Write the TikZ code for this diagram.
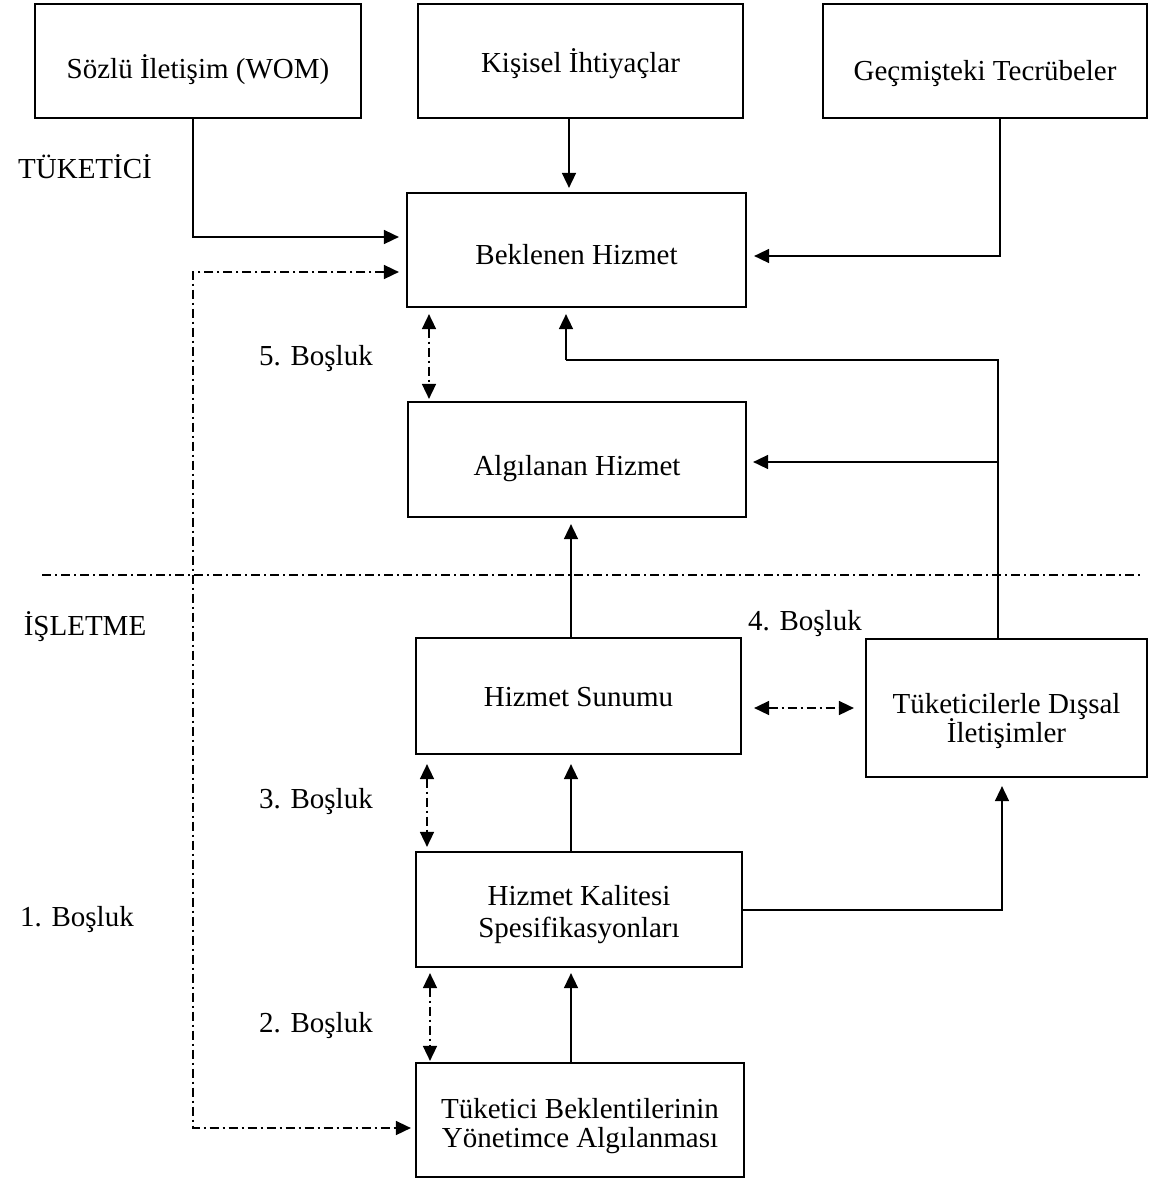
\documentclass[tikz,border=0pt]{standalone}
\usepackage{fontspec}
\setmainfont{Liberation Serif}
\usetikzlibrary{arrows.meta}
\begin{document}
\lineskiplimit=-60pt\relax
\begin{tikzpicture}[x=1pt,y=-1pt,
  txt/.style={font=\fontsize{29}{27}\selectfont, inner sep=0pt, anchor=base},
  mtxt/.style={font={\fontsize{29}{#1}\selectfont}, inner sep=0pt, align=center},
  box/.style={draw, line width=2.2pt, minimum width=#1, inner sep=0pt},
  arr/.style={line width=1.6pt, -{Triangle[length=15pt,width=14pt]}},
  dd/.style={line width=1.6pt, dash pattern=on 9pt off 4pt on 2pt off 4pt},
  ddarr/.style={dd, {Triangle[length=15pt,width=14pt]}-{Triangle[length=15pt,width=14pt]}}
]
\useasboundingbox (0,0) rectangle (1155,1181);
% boxes
\node[box=326pt, minimum height=114pt] (wom) at (198,61) {};
\node[box=325pt, minimum height=114pt] (kis) at (580.5,61) {};
\node[box=324pt, minimum height=114pt] (gec) at (985,61) {};
\node[box=339pt, minimum height=114pt] (bek) at (576.5,250) {};
\node[box=338pt, minimum height=115pt] (alg) at (577,459.5) {};
\node[box=325pt, minimum height=116pt] (sun) at (578.5,696) {};
\node[box=326pt, minimum height=115pt] (kal) at (579,909.5) {};
\node[box=328pt, minimum height=114pt] (tbm) at (580,1120) {};
\node[box=281pt, minimum height=138pt] (dis) at (1006.5,708) {};
% box texts
\node[txt] (wom-t) at (198,78) {Sözlü İletişim (WOM)};
\node[txt] (kis-t) at (580.5,72) {Kişisel İhtiyaçlar};
\node[txt] (gec-t) at (985,80) {Geçmişteki Tecrübeler};
\node[txt] (bek-t) at (576.5,264) {Beklenen Hizmet};
\node[txt] (alg-t) at (577,475) {Algılanan Hizmet};
\node[txt] (sun-t) at (578.5,706) {Hizmet Sunumu};
\node[mtxt=32pt] (kal-t) at (579,915) {Hizmet Kalitesi\\Spesifikasyonları};
\node[mtxt=29pt] (tbm-t) at (580,1126) {Tüketici Beklentilerinin\\Yönetimce Algılanması};
\node[mtxt=29pt] (dis-t) at (1006.5,721) {Tüketicilerle Dışsal\\İletişimler};
% labels
\node[txt] (lt) at (85,178) {TÜKETİCİ};
\node[txt] (li) at (85,635) {İŞLETME};
\node[txt] (g5) at (316,365) {5. Boşluk};
\node[txt] (g4) at (805,630) {4. Boşluk};
\node[txt] (g3) at (316,808) {3. Boşluk};
\node[txt] (g2) at (316,1032) {2. Boşluk};
\node[txt] (g1) at (77,926) {1. Boşluk};
% separator
\draw[dd] (42,575) -- (1140,575);
% connectors
\draw[arr, shorten >=7pt] (wom.south -| 193,0) |- (bek.west |- 0,237);
\draw[arr, shorten >=4pt] (kis.south -| 569,0) -- (bek.north -| 569,0);
\draw[arr, shorten >=7pt] (gec.south -| 1000,0) |- (bek.east |- 0,256);
\coordinate (br) at (999,462);
\draw[line width=1.6pt] (dis.north -| 998,0) -- (998,360) -- (566,360);
\draw[arr, shorten >=6pt] (566,360) -- (bek.south -| 566,0);
\draw[arr, shorten >=6pt] (br) -- (alg.east |- br);
\draw[arr, shorten >=6pt] (sun.north -| 571,0) -- (alg.south -| 571,0);
\draw[arr, shorten >=9pt] (kal.north -| 571,0) -- (sun.south -| 571,0);
\draw[arr, shorten >=5pt] (tbm.north -| 571,0) -- (kal.south -| 571,0);
\draw[arr, shorten >=8pt] (kal.east |- 0,910) -| (dis.south -| 1002,0);
% gaps
\draw[ddarr, shorten <=6pt, shorten >=2pt] (bek.south -| 429,0) -- (alg.north -| 429,0);
\draw[ddarr, shorten <=12pt, shorten >=11pt] (sun.east |- 0,708) -- (dis.west |- 0,708);
\draw[ddarr, shorten <=9pt, shorten >=4pt] (sun.south -| 427,0) -- (kal.north -| 427,0);
\draw[ddarr, shorten <=5pt, shorten >=1pt] (kal.south -| 430,0) -- (tbm.north -| 430,0);
\draw[ddarr, shorten <=7pt, shorten >=4pt] (bek.west |- 0,272) -| (193,1128) -- (tbm.west |- 0,1128);
\end{tikzpicture}
\end{document}
